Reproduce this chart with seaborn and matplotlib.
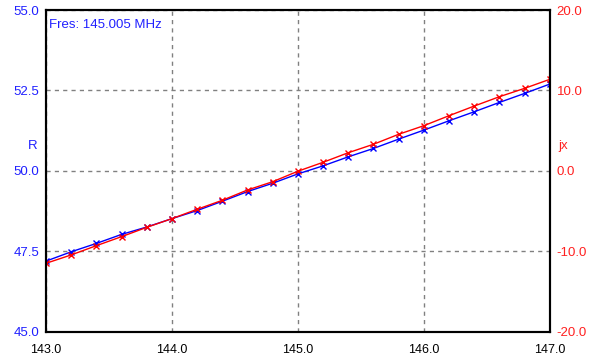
import matplotlib
matplotlib.use("Agg")
import matplotlib.pyplot as plt
import seaborn as sns

freq = [143.0, 143.2, 143.4, 143.6, 143.8, 144.0, 144.2, 144.4, 144.6, 144.8,
        145.0, 145.2, 145.4, 145.6, 145.8, 146.0, 146.2, 146.4, 146.6, 146.8, 147.0]
r_vals = [47.20, 47.49, 47.75, 48.03, 48.26, 48.52, 48.77, 49.06, 49.36, 49.62,
          49.91, 50.16, 50.44, 50.70, 50.99, 51.27, 51.56, 51.84, 52.13, 52.41, 52.70]
jx_vals = [-11.47, -10.43, -9.28, -8.16, -7.00, -5.92, -4.76, -3.64, -2.36, -1.33,
           -0.03, 1.08, 2.27, 3.32, 4.56, 5.63, 6.87, 8.07, 9.23, 10.27, 11.39]

x_ticks = [143.0, 144.0, 145.0, 146.0, 147.0]
r_ticks = [45.0, 47.5, 50.0, 52.5, 55.0]
jx_ticks = [-20.0, -10.0, 0.0, 10.0, 20.0]
fres_text = "Fres: 145.005 MHz"

sns.set_style("white")
plt.rcParams["font.family"] = ["Liberation Sans", "DejaVu Sans"]
plt.rcParams["font.size"] = 9

fig, ax = plt.subplots(figsize=(5.97, 3.64), dpi=100)
fig.subplots_adjust(left=0.077, right=0.921, top=0.9725, bottom=0.088)

# seaborn draws markers with a white edge by default, so set it explicitly
sns.lineplot(x=freq, y=r_vals, ax=ax, color="#0000ff", marker="x",
             markersize=5, markeredgewidth=1, markeredgecolor="#0000ff",
             linewidth=1, linestyle="-")
ax2 = ax.twinx()
sns.lineplot(x=freq, y=jx_vals, ax=ax2, color="#ff0000", marker="x",
             markersize=5, markeredgewidth=1, markeredgecolor="#ff0000",
             linewidth=1, linestyle="-")

ax.set_xlim(143, 147)
ax.set_ylim(45, 55)
ax2.set_ylim(-20, 20)
ax.set_xticks(x_ticks)
ax.set_xticklabels([f"{v:.1f}" for v in x_ticks])
ax.set_yticks(r_ticks)
ax.set_yticklabels([f"{v:.1f}" for v in r_ticks])
ax2.set_yticks(jx_ticks)
ax2.set_yticklabels([f"{v:.1f}" for v in jx_ticks])

ax.grid(True, color="#808080", linestyle=(0, (3, 3)), linewidth=1)
ax.tick_params(axis="x", length=0, pad=9, labelcolor="black", labelsize=9)
ax.tick_params(axis="y", length=0, pad=5, labelcolor="#2020ff", labelsize=9.5)
ax2.tick_params(axis="y", length=0, pad=5, labelcolor="#ff2020", labelsize=9.5)

for a in (ax, ax2):
    for s in a.spines.values():
        s.set_color("black")
        s.set_linewidth(1.5)

ax.set_ylabel("R", rotation=0, color="#2020ff", fontsize=9.5, va="center")
ax.yaxis.set_label_coords(-0.026, 0.578)
ax2.set_ylabel("jx", rotation=0, color="#ff2020", fontsize=9.5, va="center")
ax2.yaxis.set_label_coords(1.026, 0.578)
ax.set_xlabel("")

ax.text(0.007, 0.953, fres_text, transform=ax.transAxes, color="#2020ff",
        fontsize=9.5, ha="left", va="center")

fig.savefig("out.png", dpi=100)
